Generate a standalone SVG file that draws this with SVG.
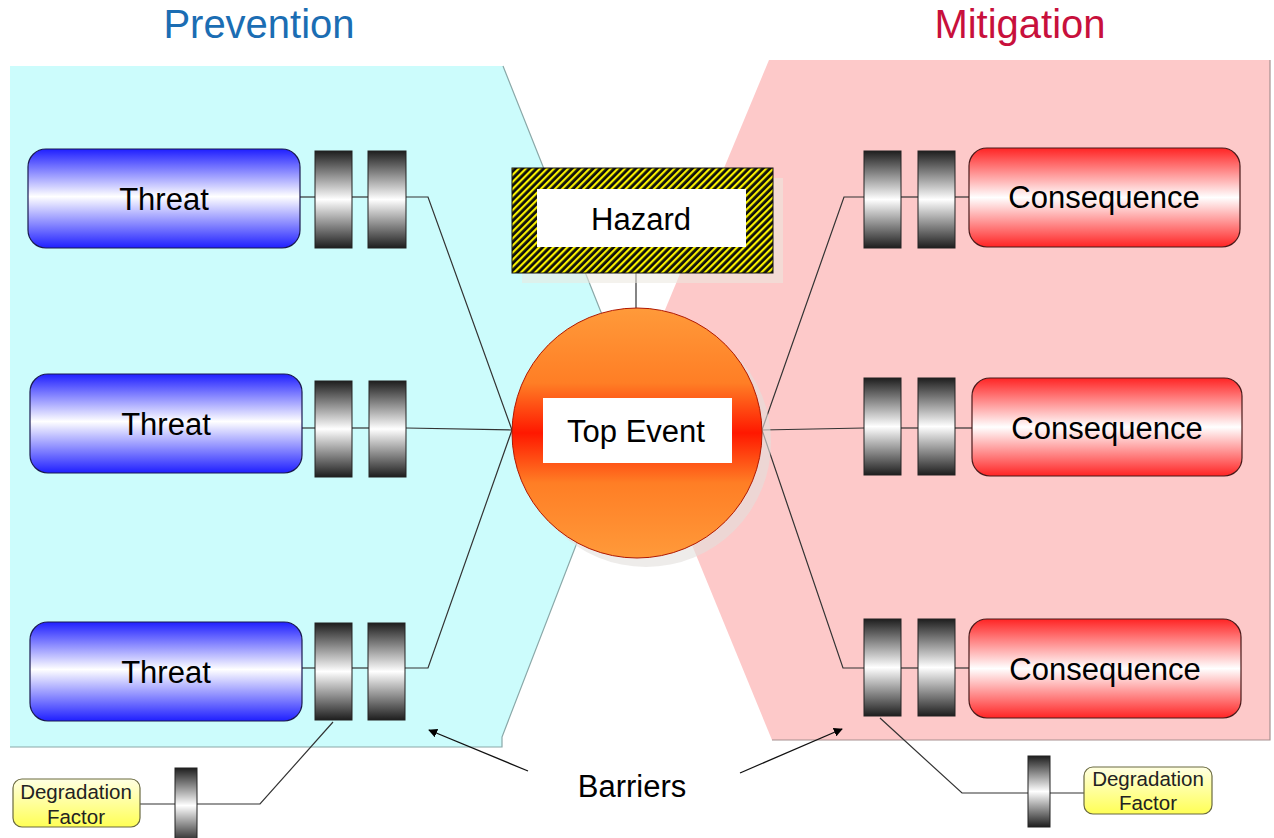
<svg xmlns="http://www.w3.org/2000/svg" width="1274" height="838" viewBox="0 0 1274 838">
<defs>
<linearGradient id="gBlue" x1="0" y1="0" x2="0" y2="1">
<stop offset="0" stop-color="#1f1fff"/><stop offset="0.48" stop-color="#ffffff"/><stop offset="1" stop-color="#1f1fff"/>
</linearGradient>
<linearGradient id="gRed" x1="0" y1="0" x2="0" y2="1">
<stop offset="0" stop-color="#ff2424"/><stop offset="0.5" stop-color="#ffffff"/><stop offset="1" stop-color="#ff2424"/>
</linearGradient>
<linearGradient id="gBar" x1="0" y1="0" x2="0" y2="1">
<stop offset="0" stop-color="#1e1e1e"/><stop offset="0.5" stop-color="#ffffff"/><stop offset="1" stop-color="#1e1e1e"/>
</linearGradient>
<linearGradient id="gTop" x1="0" y1="0" x2="0" y2="1">
<stop offset="0" stop-color="#ff9a3a"/><stop offset="0.3" stop-color="#ff7e25"/><stop offset="0.5" stop-color="#ff1800"/><stop offset="0.7" stop-color="#ff7e25"/><stop offset="1" stop-color="#ff9a3a"/>
</linearGradient>
<linearGradient id="gYel" x1="0" y1="0" x2="0" y2="1">
<stop offset="0" stop-color="#ffffe2"/><stop offset="1" stop-color="#ffff55"/>
</linearGradient>
<pattern id="stripes" patternUnits="userSpaceOnUse" width="5" height="5" patternTransform="rotate(45)">
<rect x="0" y="0" width="5" height="5" fill="#0d0d0d"/>
<rect x="0" y="0" width="2.2" height="5" fill="#f8f000"/>
</pattern>
<marker id="arr" viewBox="0 0 10 10" refX="9" refY="5" markerWidth="9" markerHeight="9" orient="auto" markerUnits="userSpaceOnUse">
<path d="M0,0 L10,5 L0,10 z" fill="#000"/>
</marker>
<style>
.t{font-family:"Liberation Sans",Arial,sans-serif;fill:#000;text-anchor:middle}
.lbl{font-size:31px}
.df{font-size:20.5px;fill:#222}
.threat{fill:url(#gBlue);stroke:#1a1a50;stroke-width:1.2}
.cons{fill:url(#gRed);stroke:#4a1a1a;stroke-width:1.2}
.bar{fill:url(#gBar);stroke:#222;stroke-width:1}
.deg{fill:url(#gYel);stroke:#6a6a40;stroke-width:1.2}
.ln{fill:none;stroke:#333;stroke-width:1.2}
</style>
</defs>
<rect width="1274" height="838" fill="#fff"/>
<g id="panels">
<polygon points="10,66 503,66 634,395 502,737 502,747 10,747" fill="#ccfcfc"/>
<polyline points="503,66 634,395 502,737 502,747 10,747" fill="none" stroke="#8aa8a8" stroke-width="1.2"/>
<polygon points="769,60 1270,60 1270,740 772,740 630,394" fill="#fdc9c9"/>
<polyline points="1270,60 1270,740 772,740" fill="none" stroke="#a89090" stroke-width="1.2"/>
</g>
<g id="titles">
<text class="t" x="259" y="38" font-size="40" style="fill:#1b6db3">Prevention</text>
<text class="t" x="1020" y="38" font-size="40" style="fill:#c8103c">Mitigation</text>
</g>
<g id="connectors">
<polyline class="ln" points="300,197 315,197"/><polyline class="ln" points="352,197 368,197"/><polyline class="ln" points="406,197 428,197 512,430"/>
<polyline class="ln" points="302,428 315,428"/><polyline class="ln" points="352,428 369,428"/><polyline class="ln" points="406,428 512,430"/>
<polyline class="ln" points="302,668 315,668"/><polyline class="ln" points="352,668 368,668"/><polyline class="ln" points="405,668 428,668 512,430"/>
<polyline class="ln" points="969,197 955,197"/><polyline class="ln" points="918,197 901,197"/><polyline class="ln" points="864,197 844,197 762,430"/>
<polyline class="ln" points="972,428 955,428"/><polyline class="ln" points="918,428 901,428"/><polyline class="ln" points="864,428 762,430"/>
<polyline class="ln" points="969,668 955,668"/><polyline class="ln" points="918,668 901,668"/><polyline class="ln" points="864,668 843,668 762,430"/>
<polyline class="ln" points="636,273 636,308"/>
<polyline class="ln" points="140,804 175,804"/><polyline class="ln" points="197,804 260,804 333,722"/>
<polyline class="ln" points="1084,793 1050,793"/><polyline class="ln" points="1028,793 962,793 880,718"/>
<line x1="528" y1="771" x2="429" y2="730" stroke="#111" stroke-width="1.3" marker-end="url(#arr)"/>
<line x1="740" y1="773" x2="842" y2="729" stroke="#111" stroke-width="1.3" marker-end="url(#arr)"/>
</g>
<g id="threat1"><rect class="threat" x="28" y="149" width="272" height="99" rx="18"/><text class="t lbl" x="164" y="210">Threat</text></g>
<g id="threat2"><rect class="threat" x="30" y="374" width="272" height="99" rx="18"/><text class="t lbl" x="166" y="435">Threat</text></g>
<g id="threat3"><rect class="threat" x="30" y="622" width="272" height="99" rx="18"/><text class="t lbl" x="166" y="683">Threat</text></g>
<g id="barriers-left">
<rect class="bar" x="315" y="151" width="37" height="97"/><rect class="bar" x="368" y="151" width="38" height="97"/>
<rect class="bar" x="315" y="381" width="37" height="96"/><rect class="bar" x="369" y="381" width="37" height="96"/>
<rect class="bar" x="315" y="623" width="37" height="97"/><rect class="bar" x="368" y="623" width="37" height="97"/>
</g>
<g id="cons1"><rect class="cons" x="969" y="148" width="271" height="99" rx="18"/><text class="t lbl" x="1104" y="208">Consequence</text></g>
<g id="cons2"><rect class="cons" x="972" y="378" width="270" height="98" rx="18"/><text class="t lbl" x="1107" y="439">Consequence</text></g>
<g id="cons3"><rect class="cons" x="969" y="619" width="272" height="99" rx="18"/><text class="t lbl" x="1105" y="680">Consequence</text></g>
<g id="barriers-right">
<rect class="bar" x="864" y="151" width="37" height="97"/><rect class="bar" x="918" y="151" width="37" height="97"/>
<rect class="bar" x="864" y="378" width="37" height="97"/><rect class="bar" x="918" y="378" width="37" height="97"/>
<rect class="bar" x="864" y="619" width="37" height="97"/><rect class="bar" x="918" y="619" width="37" height="97"/>
</g>
<g id="hazard">
<rect x="522" y="178" width="261" height="105" fill="#ebe7df" opacity="0.55"/>
<rect x="512" y="168" width="261" height="105" fill="url(#stripes)" stroke="#111" stroke-width="1"/>
<rect x="537" y="189" width="209" height="58" fill="#fff"/>
<text class="t lbl" x="641" y="230">Hazard</text>
</g>
<g id="top-event">
<circle cx="646" cy="442" r="125" fill="#e2e0dc" opacity="0.6"/>
<circle cx="637" cy="433" r="125" fill="url(#gTop)" stroke="#b01800" stroke-width="1"/>
<rect x="543" y="398" width="189" height="65" fill="#fff"/>
<text class="t lbl" x="636" y="442">Top Event</text>
</g>
<g id="degradation-left">
<rect class="deg" x="13" y="779" width="127" height="48" rx="9"/>
<text class="t df" x="76" y="799">Degradation</text><text class="t df" x="76" y="824">Factor</text>
<rect class="bar" x="175" y="768" width="22" height="75"/>
</g>
<g id="degradation-right">
<rect class="deg" x="1084" y="767" width="128" height="47" rx="9"/>
<text class="t df" x="1148" y="786">Degradation</text><text class="t df" x="1148" y="810">Factor</text>
<rect class="bar" x="1028" y="756" width="22" height="71"/>
</g>
<g id="barriers-label"><text class="t lbl" x="632" y="797">Barriers</text></g>
</svg>
